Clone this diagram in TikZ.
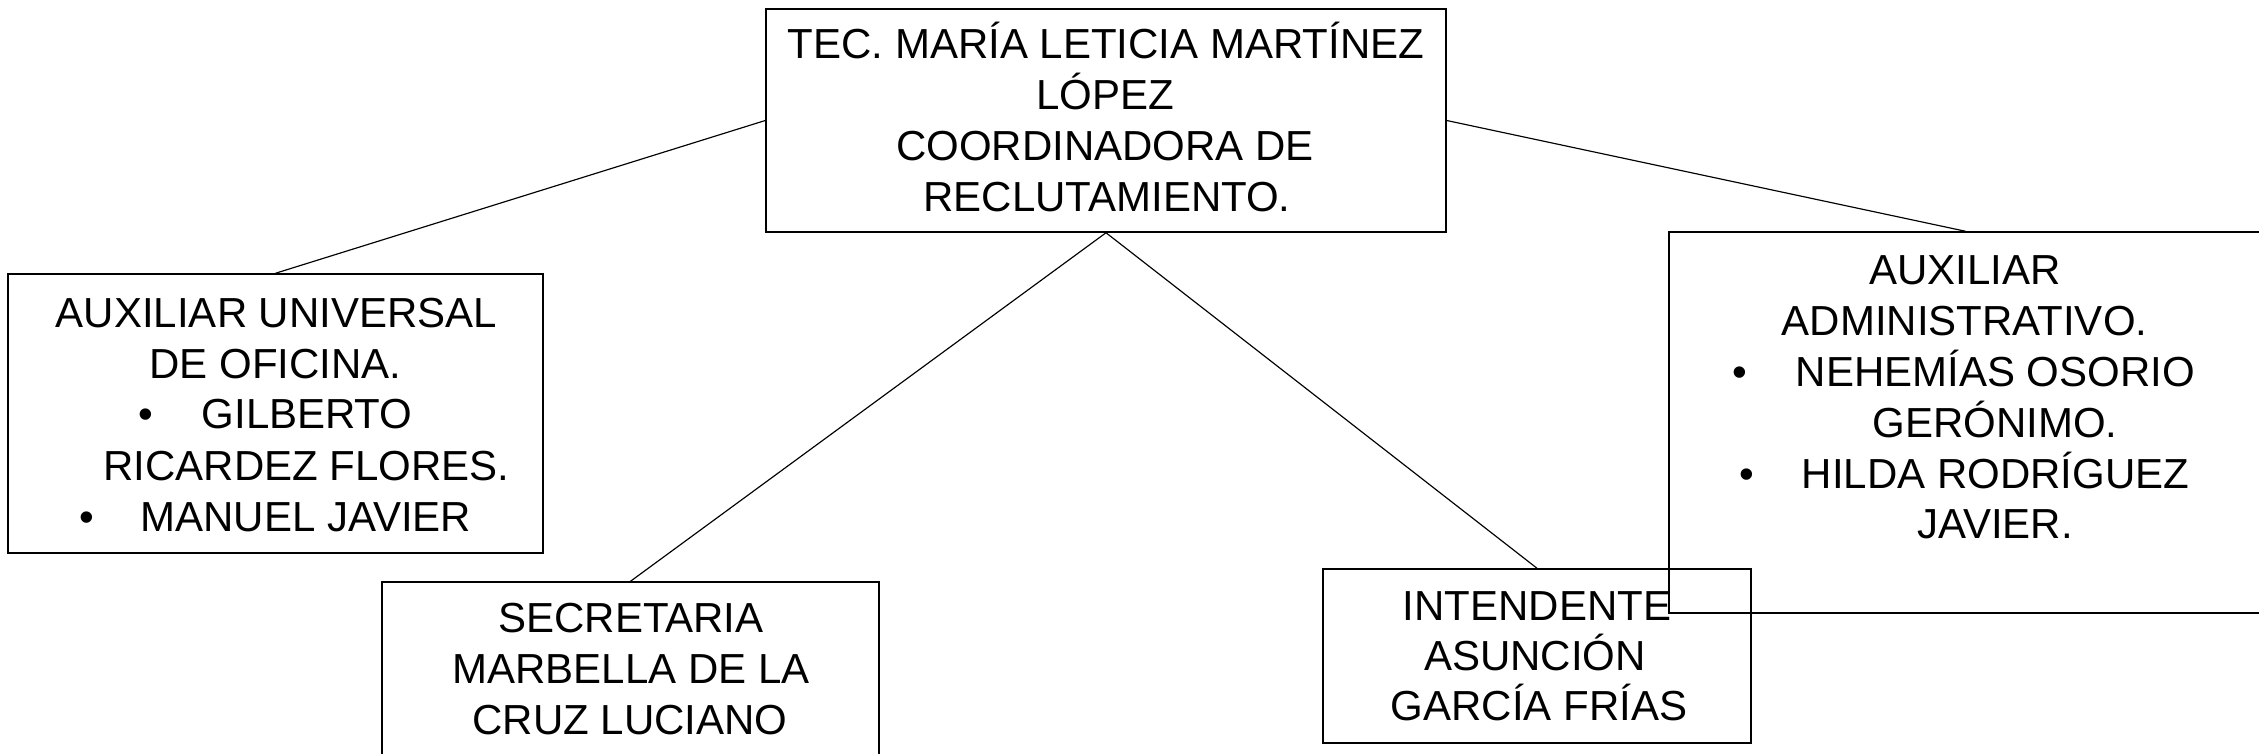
\documentclass[tikz,border=0pt]{standalone}
\usepackage{fontspec}
\setmainfont{Liberation Sans}
\usetikzlibrary{fit}
\tikzset{
  box/.style={draw=black, line width=0.45pt, inner sep=0pt, rectangle},
  link/.style={draw=black, line width=0.35pt},
  txt/.style={inner sep=0pt, anchor=base, font=\fontsize{12.6pt}{15.3pt}\selectfont},
  txtw/.style={txt, anchor=base west},
}
\begin{document}
\begin{tikzpicture}[x=0.3pt, y=-0.3pt]
\useasboundingbox (0,0) rectangle (2259,753);
\fill[white] (0,0) rectangle (2259,753);

% boxes
\node[box, fit={(766,9) (1446,232)}] (top) {};
\node[box, fit={(8,274) (543,553)}] (left) {};
\node[box, fit={(382,582) (879,800)}] (sec) {};
\node[box, fit={(1323,569) (1751,743)}] (int) {};
\node[box, fit={(1669,232) (2262,613)}] (aux) {};

% connectors
\draw[link] (top.west) -- (left.north);
\draw[link] (top.east) -- (aux.north);
\draw[link] (top.south) -- (sec.north);
\draw[link] (top.south) -- (int.north);

% top box text
\node[txt] (t1) at (1106,58) {TEC. MARÍA LETICIA MARTÍNEZ};
\node[txt] (t2) at (1105,109) {LÓPEZ};
\node[txt] (t3) at (1105,160) {COORDINADORA DE};
\node[txt] (t4) at (1107,211) {RECLUTAMIENTO.};

% left box text
\node[txt] (l1) at (276.5,327) {AUXILIAR UNIVERSAL};
\node[txt] (l2) at (275.5,378) {DE OFICINA.};
\node[txt] (lb1) at (146,428) {•};
\node[txtw] (l3) at (201,428) {GILBERTO};
\node[txt] (l4) at (306.5,480) {RICARDEZ FLORES.};
\node[txt] (lb2) at (87,531) {•};
\node[txtw] (l5) at (140,531) {MANUEL JAVIER};

% aux box text
\node[txt] (a1) at (1965,284) {AUXILIAR};
\node[txt] (a2) at (1964.5,335) {ADMINISTRATIVO.};
\node[txt] (ab1) at (1740,386) {•};
\node[txtw] (a3) at (1795,386) {NEHEMÍAS OSORIO};
\node[txt] (a4) at (1995,437) {GERÓNIMO.};
\node[txt] (ab2) at (1747,488) {•};
\node[txtw] (a5) at (1801,488) {HILDA RODRÍGUEZ};
\node[txt] (a6) at (1995,538) {JAVIER.};

% secretaria text
\node[txt] (s1) at (631,632) {SECRETARIA};
\node[txt] (s2) at (631,683) {MARBELLA DE LA};
\node[txt] (s3) at (630,734) {CRUZ LUCIANO};

% intendente text
\node[txt] (i1) at (1537,620) {INTENDENTE};
\node[txt] (i2) at (1535,670) {ASUNCIÓN};
\node[txt] (i3) at (1539,720) {GARCÍA FRÍAS};
\end{tikzpicture}
\end{document}
